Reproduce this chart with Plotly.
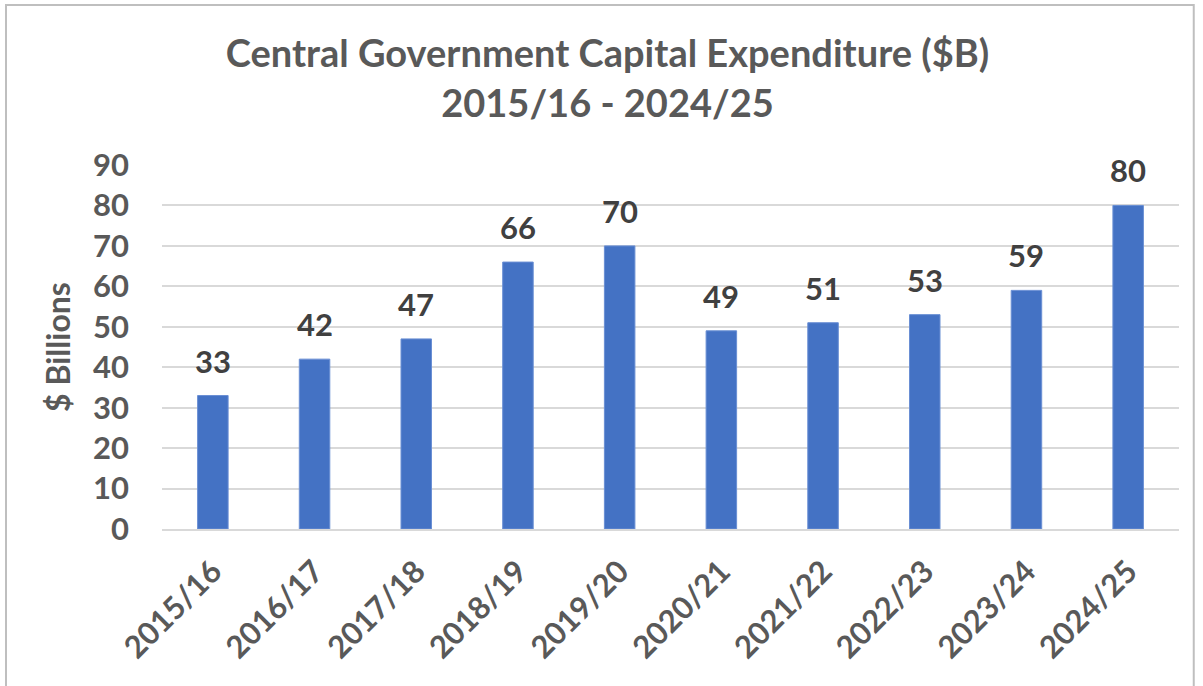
import plotly.graph_objects as go

categories = ["2015/16", "2016/17", "2017/18", "2018/19", "2019/20",
              "2020/21", "2021/22", "2022/23", "2023/24", "2024/25"]
values = [33, 42, 47, 66, 70, 49, 51, 53, 59, 80]
y_ticks = [0, 10, 20, 30, 40, 50, 60, 70, 80, 90]

FONT = "Lato"
GRAY = "#595959"
DARK = "#404040"

fig = go.Figure()
fig.add_trace(go.Bar(
    x=categories, y=values,
    marker=dict(color="#4472C4", line=dict(color="#6A8FD4", width=1)),
    hoverinfo="x+y",
))

for c, v in zip(categories, values):
    fig.add_annotation(x=c, y=v, text=str(v), showarrow=False,
                       yanchor="bottom", yshift=14,
                       font=dict(family=FONT, size=31, color=DARK, weight="bold"))

fig.update_layout(
    width=1203, height=686,
    margin=dict(l=162, r=24, t=165, b=157, autoexpand=False),
    paper_bgcolor="white", plot_bgcolor="white",
    bargap=0.7,
    showlegend=False,
    title=dict(text="Central Government Capital Expenditure ($B)<br>2015/16 - 2024/25",
               x=0.505, xanchor="center", y=0.902, yanchor="middle",
               font=dict(family=FONT, size=38, color=GRAY, weight="bold")),
    font=dict(family=FONT, color=GRAY),
)
fig.update_yaxes(range=[0, 90], tickvals=y_ticks, showgrid=True,
                 gridcolor="#D9D9D9", gridwidth=2, zeroline=False,
                 showline=False, ticks="", ticklabelstandoff=32, automargin=False,
                 tickfont=dict(family=FONT, size=31, color=GRAY, weight="bold"),
                 title=dict(text="$ Billions", standoff=12,
                            font=dict(family=FONT, size=32, color=GRAY, weight="bold")))
fig.update_xaxes(tickangle=-45, showline=True, linecolor="#D9D9D9", linewidth=2,
                 ticks="", ticklabelstandoff=10, automargin=False,
                 tickfont=dict(family=FONT, size=31, color=GRAY, weight="bold"))

fig.add_shape(type="rect", xref="paper", yref="paper",
              x0=-0.1534, x1=1.0145, y0=-0.5, y1=1.4396,
              line=dict(color="#BFBFBF", width=2), layer="below")

fig.write_html("out.html", config={"displayModeBar": False},
               post_script="document.body.style.margin='0';document.body.style.overflow='hidden';")
